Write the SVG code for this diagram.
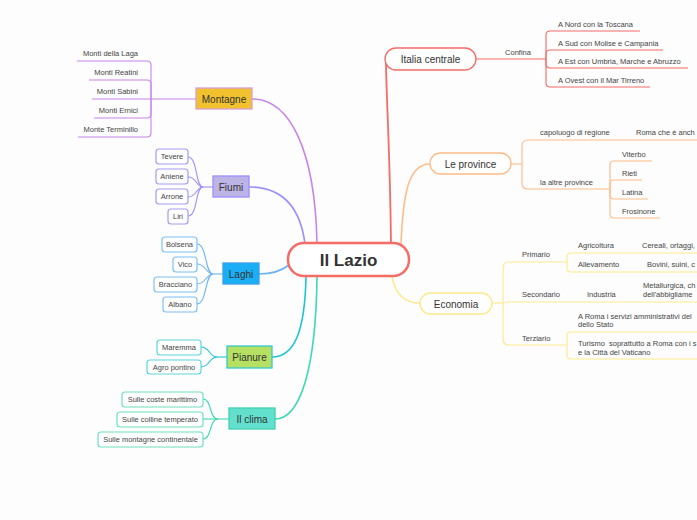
<svg xmlns="http://www.w3.org/2000/svg" width="697" height="520" viewBox="0 0 697 520">
<style>
text{font-family:"Liberation Sans",Arial,sans-serif;fill:#333}
.leaf{font-size:7.5px;fill:#444}
.mid{text-anchor:middle}
.end{text-anchor:end}
.sub{font-size:10px;text-anchor:middle}
.c{fill:none;stroke-linecap:round}
.b{fill:#fff;stroke-width:1.2}
</style>
<rect width="697" height="520" fill="#fdfdfd"/>
<g id="connectors">
  <path class="c" d="M391,244 C390,150 386,90 386,62" stroke="#f56b66" stroke-width="1.8"/>
  <path class="c" d="M401,244 C403,195 408,164 430,164" stroke="#ffbb88" stroke-width="1.6"/>
  <path class="c" d="M392,276 C395,295 405,303 420,303" stroke="#fde98a" stroke-width="1.6"/>
  <path class="c" d="M317,243 C315,150 290,99 252,99" stroke="#c785e8" stroke-width="1.6"/>
  <path class="c" d="M305,244 C300,205 280,187 249,187" stroke="#9a90ff" stroke-width="1.6"/>
  <path class="c" d="M289,265 C280,272 270,274 259,274" stroke="#6ab4f4" stroke-width="1.6"/>
  <path class="c" d="M306,276 C305,330 295,357 272,357" stroke="#1cc4d4" stroke-width="1.6"/>
  <path class="c" d="M317,276 C316,370 300,419 275,419" stroke="#3dd9b0" stroke-width="1.6"/>
  <g stroke="#f56b66" stroke-width="1.1" fill="none">
    <path d="M476,59 H546"/>
    <path d="M546,59 V35 Q546,31 550,31 H640"/>
    <path d="M546,59 V54 Q546,50 550,50 H663"/>
    <path d="M546,59 V64 Q546,68 550,68 H688"/>
    <path d="M546,59 V83 Q546,87 550,87 H650"/>
  </g>
  <g stroke="#ffbb88" stroke-width="1.1" fill="none">
    <path d="M511,164 H522"/>
    <path d="M522,164 V146 Q522,140 528,140 H697"/>
    <path d="M522,164 V183 Q522,189 528,189 H610"/>
    <path d="M610,189 V165 Q610,161 614,161 H652"/>
    <path d="M610,189 V184 Q610,180 614,180 H642"/>
    <path d="M610,189 V195 Q610,199 614,199 H648"/>
    <path d="M610,189 V214 Q610,218 614,218 H660"/>
  </g>
  <g stroke="#fde98a" stroke-width="1.1" fill="none">
    <path d="M492,303 H503"/>
    <path d="M503,303 V268 Q503,262 509,262 H567"/>
    <path d="M503,303 Q503,302 509,302 H697"/>
    <path d="M503,303 V339 Q503,345 509,345 H567"/>
    <path d="M567,262 V257 Q567,253 571,253 H697"/>
    <path d="M567,262 V268 Q567,272 571,272 H697"/>
    <path d="M567,345 V336 Q567,332 571,332 H697"/>
    <path d="M567,345 V355 Q567,359 571,359 H697"/>
  </g>
  <g stroke="#c785e8" stroke-width="1.1" fill="none">
    <path d="M196,99 H151"/>
    <path d="M151,99 V65 Q151,61 147,61 H77"/>
    <path d="M151,99 V84 Q151,80 147,80 H89"/>
    <path d="M151,99 H92"/>
    <path d="M151,99 V114 Q151,118 147,118 H94"/>
    <path d="M151,99 V133 Q151,137 147,137 H78"/>
  </g>
  <g stroke="#9a90ff" stroke-width="1.1" fill="none">
    <path d="M213,187 H203"/>
    <path d="M203,187 C195,187 198,157 188,157"/>
    <path d="M203,187 C196,187 197,177 188,177"/>
    <path d="M203,187 C196,187 197,197 188,197"/>
    <path d="M203,187 C195,187 198,216 188,216"/>
  </g>
  <g stroke="#6ab4f4" stroke-width="1.1" fill="none">
    <path d="M223,274 H213"/>
    <path d="M213,274 C205,274 207,244 197,244"/>
    <path d="M213,274 C206,274 206,264 197,264"/>
    <path d="M213,274 C206,274 206,284 197,284"/>
    <path d="M213,274 C205,274 207,304 197,304"/>
  </g>
  <g stroke="#1cc4d4" stroke-width="1.1" fill="none">
    <path d="M227,357 H217"/>
    <path d="M217,357 C209,357 210,347 201,347"/>
    <path d="M217,357 C209,357 210,367 201,367"/>
  </g>
  <g stroke="#3dd9b0" stroke-width="1.1" fill="none">
    <path d="M229,419 H218"/>
    <path d="M218,419 C209,419 212,399 203,399"/>
    <path d="M218,419 H203"/>
    <path d="M218,419 C209,419 212,439 203,439"/>
  </g>
</g>

<g id="center">
  <rect x="288" y="243" width="121" height="33" rx="16" fill="#fff" stroke="#f56b66" stroke-width="2.5"/>
  <text x="348.5" y="266" font-size="17" font-weight="bold" class="mid">Il Lazio</text>
</g>

<g id="italia-centrale">
  <rect x="385" y="48" width="91" height="22" rx="11" fill="#fff" stroke="#f56b66" stroke-width="1.3"/>
  <text x="430.5" y="63" class="sub">Italia centrale</text>
  <text x="518" y="54.5" class="leaf mid">Confina</text>
  <text x="558" y="26.5" class="leaf">A Nord con la Toscana</text>
  <text x="558" y="45.5" class="leaf">A Sud con Molise e Campania</text>
  <text x="558" y="64" class="leaf">A Est con Umbria, Marche e Abruzzo</text>
  <text x="558" y="83" class="leaf">A Ovest con il Mar Tirreno</text>
</g>

<g id="le-province">
  <rect x="430" y="153" width="81" height="21" rx="10.5" fill="#fff" stroke="#ffbb88" stroke-width="1.3"/>
  <text x="470.5" y="167.5" class="sub">Le province</text>
  <text x="540" y="135" class="leaf">capoluogo di regione</text>
  <text x="636" y="135" class="leaf" font-size="7.2">Roma che è anch</text>
  <text x="540" y="184.5" class="leaf">la altre province</text>
  <text x="622" y="156.5" class="leaf">Viterbo</text>
  <text x="622" y="175.5" class="leaf">Rieti</text>
  <text x="622" y="194.5" class="leaf">Latina</text>
  <text x="622" y="213.5" class="leaf">Frosinone</text>
</g>

<g id="economia">
  <rect x="420" y="293" width="72" height="21" rx="10.5" fill="#fff" stroke="#fde98a" stroke-width="1.3"/>
  <text x="456" y="307.5" class="sub">Economia</text>
  <text x="522" y="257" class="leaf">Primario</text>
  <text x="578" y="248" class="leaf">Agricoltura</text>
  <text x="642" y="248" class="leaf">Cereali, ortaggi,</text>
  <text x="578" y="267" class="leaf">Allevamento</text>
  <text x="647" y="267" class="leaf">Bovini, suini, c</text>
  <text x="522" y="297" class="leaf">Secondario</text>
  <text x="587" y="297" class="leaf">Industria</text>
  <text x="643" y="287.5" class="leaf">Metallurgica, ch</text>
  <text x="643" y="297" class="leaf">dell'abbigliame</text>
  <text x="522" y="340.5" class="leaf">Terziario</text>
  <text x="578" y="318.5" class="leaf">A Roma i servizi amministrativi del</text>
  <text x="578" y="327" class="leaf">dello Stato</text>
  <text x="578" y="345.5" class="leaf" xml:space="preserve">Turismo  soprattutto a Roma con i s</text>
  <text x="578" y="354.5" class="leaf">e la Città del Vaticano</text>
</g>

<g id="montagne">
  <rect x="196" y="88" width="56" height="21" fill="#f2c12e" stroke="#d8a0d8" stroke-width="1.3"/>
  <text x="224" y="102.5" class="sub">Montagne</text>
  <text x="138" y="55.5" class="leaf end">Monti della Laga</text>
  <text x="138" y="74.5" class="leaf end">Monti Reatini</text>
  <text x="138" y="94" class="leaf end">Monti Sabini</text>
  <text x="138" y="113" class="leaf end">Monti Ernici</text>
  <text x="138" y="132" class="leaf end">Monte Terminillo</text>
</g>

<g id="fiumi">
  <rect x="213" y="176" width="36" height="21" fill="#bdb4e6" stroke="#9a90ff" stroke-width="1.3"/>
  <text x="231" y="190.5" class="sub">Fiumi</text>
  <rect class="b" x="156" y="149" width="32" height="15" rx="3" stroke="#a59cf5"/>
  <text x="172" y="159.2" class="leaf mid">Tevere</text>
  <rect class="b" x="156" y="169" width="32" height="15" rx="3" stroke="#a59cf5"/>
  <text x="172" y="179.2" class="leaf mid">Aniene</text>
  <rect class="b" x="156" y="189" width="32" height="15" rx="3" stroke="#a59cf5"/>
  <text x="172" y="199.2" class="leaf mid">Arrone</text>
  <rect class="b" x="168" y="209" width="20" height="15" rx="3" stroke="#a59cf5"/>
  <text x="178" y="219.2" class="leaf mid">Liri</text>
</g>

<g id="laghi">
  <rect x="223" y="263" width="36" height="21" fill="#1aaef5" stroke="#3aa0e8" stroke-width="1.3"/>
  <text x="241" y="277.5" class="sub">Laghi</text>
  <rect class="b" x="162" y="237" width="35" height="15" rx="3" stroke="#7ec0f5"/>
  <text x="179.5" y="247.2" class="leaf mid">Bolsena</text>
  <rect class="b" x="173" y="257" width="24" height="15" rx="3" stroke="#7ec0f5"/>
  <text x="185" y="267.2" class="leaf mid">Vico</text>
  <rect class="b" x="154" y="277" width="43" height="15" rx="3" stroke="#7ec0f5"/>
  <text x="175.5" y="287.2" class="leaf mid">Bracciano</text>
  <rect class="b" x="163" y="297" width="34" height="15" rx="3" stroke="#7ec0f5"/>
  <text x="180" y="307.2" class="leaf mid">Albano</text>
</g>

<g id="pianure">
  <rect x="227" y="346" width="45" height="22" fill="#b5e061" stroke="#35c8d0" stroke-width="1.3"/>
  <text x="249.5" y="360.5" class="sub">Pianure</text>
  <rect class="b" x="157" y="340" width="44" height="15" rx="3" stroke="#5fd6dc"/>
  <text x="179" y="350.2" class="leaf mid">Maremma</text>
  <rect class="b" x="147" y="360" width="54" height="14" rx="3" stroke="#5fd6dc"/>
  <text x="174" y="369.7" class="leaf mid">Agro pontino</text>
</g>

<g id="il-clima">
  <rect x="229" y="408" width="46" height="21" fill="#62e0cd" stroke="#40d0b0" stroke-width="1.3"/>
  <text x="252" y="422.5" class="sub">Il clima</text>
  <rect class="b" x="122" y="392" width="81" height="15" rx="3" stroke="#70e0c0"/>
  <text x="162.5" y="402.2" class="leaf mid">Sulle coste marittimo</text>
  <rect class="b" x="117" y="412" width="86" height="15" rx="3" stroke="#70e0c0"/>
  <text x="160" y="422.2" class="leaf mid">Sulle colline temperato</text>
  <rect class="b" x="98" y="432" width="105" height="15" rx="3" stroke="#70e0c0"/>
  <text x="150.5" y="442.2" class="leaf mid">Sulle montagne continentale</text>
</g>
</svg>
